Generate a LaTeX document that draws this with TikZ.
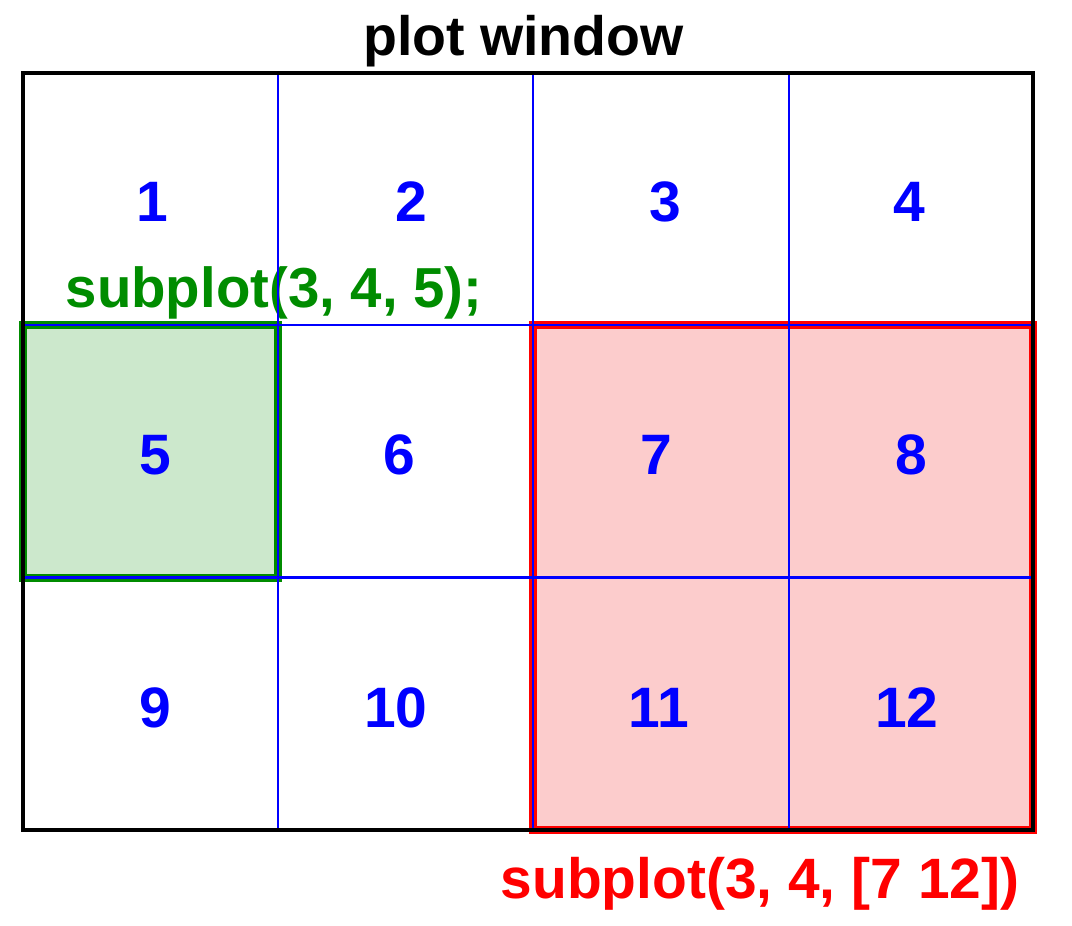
\documentclass[tikz,border=0pt]{standalone}
\usepackage{fontspec}
\setmainfont{Liberation Sans}
\definecolor{mygreen}{RGB}{0,140,0}
\definecolor{greenfill}{RGB}{204,232,204}
\definecolor{redfill}{RGB}{252,204,204}
\begin{document}
\begin{tikzpicture}[x=1pt,y=-1pt,
  num/.style={text=blue, font=\fontsize{57}{60}\selectfont\bfseries, anchor=base, inner sep=0pt},
  gridline/.style={blue, line width=2.2pt},
  frame/.style={black, line width=4pt},
  greenbox/.style={fill=greenfill, draw=mygreen, line width=7.5pt},
  redbox/.style={fill=redfill, draw=red, line width=8pt},
  lbl/.style={inner sep=0pt, anchor=base west}]
\useasboundingbox (0,0) rectangle (1072,926);
% highlighted regions
\draw[greenbox] (23,325) rectangle (278,578);
\draw[redbox] (533,325) rectangle (1033,830);
% titles and labels
\node[font=\fontsize{55.5}{58}\selectfont\bfseries, inner sep=0pt, anchor=base] (title) at (523.5,55) {plot window};
\node[lbl, text=mygreen, font=\fontsize{56.4}{60}\selectfont\bfseries] (greenlbl) at (65.5,307.5) {subplot(3, 4, 5);};
\node[lbl, text=red, font=\fontsize{56.9}{60}\selectfont\bfseries] (redlbl) at (500.5,898) {subplot(3, 4, [7 12])};
% cell numbers
\node[num] (n1) at (152,221) {1};
\node[num] (n2) at (411,221) {2};
\node[num] (n3) at (665,221) {3};
\node[num] (n4) at (909,221) {4};
\node[num] (n5) at (155,474) {5};
\node[num] (n6) at (399,474) {6};
\node[num] (n7) at (656,474) {7};
\node[num] (n8) at (911,474) {8};
\node[num] (n9) at (155,727) {9};
\node[num] (n10) at (396,727) {10};
\node[num] (n11) at (659,727) {11};
\node[num] (n12) at (907,727) {12};
% grid lines
\draw[gridline] (278,73) -- (278,830);
\draw[gridline] (533,73) -- (533,830);
\draw[gridline] (789,73) -- (789,830);
\draw[gridline] (23,325) -- (1033,325);
\draw[gridline] (23,577.5) -- (1033,577.5);
% outer frame
\draw[frame] (23,73) rectangle (1033,830);
\end{tikzpicture}
\end{document}
